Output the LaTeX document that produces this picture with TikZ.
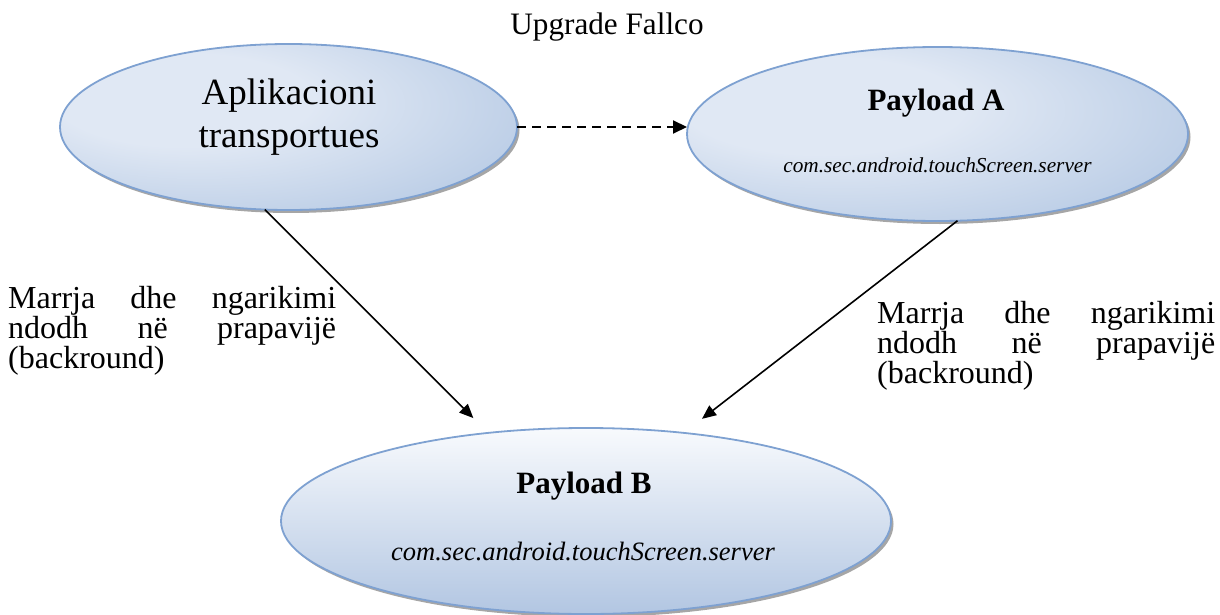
\documentclass[tikz,border=0pt]{standalone}
\usepackage{fontspec}
\setmainfont{Liberation Serif}
\usetikzlibrary{shapes.geometric,shadows,arrows.meta}

\definecolor{ellLight}{RGB}{224,232,244}
\definecolor{ellDark}{RGB}{166,190,222}
\definecolor{ellEdge}{RGB}{126,161,209}
\definecolor{ellTop}{RGB}{248,250,253}
\definecolor{ellBottom}{RGB}{178,198,226}

% soft glow, brightest a little up and to the left of the middle
\pgfdeclareradialshading{ellglow}{\pgfpoint{-14bp}{10bp}}{%
  color(0bp)=(ellLight); color(14bp)=(ellLight);
  color(48bp)=(ellDark); color(75bp)=(ellDark)}

\begin{document}
\setlength{\lineskiplimit}{-30pt}
\begin{tikzpicture}[x=1pt,y=-1pt,
  bubble/.style={ellipse, draw=ellEdge, line width=1.8pt, inner sep=0pt, outer sep=0pt,
    drop shadow={shadow xshift=2.5pt, shadow yshift=-3pt, fill=black, opacity=0.35}},
  glowfill/.style={shading=ellglow},
  fadefill/.style={top color=ellTop, bottom color=ellBottom},
  link/.style={line width=1.6pt, -{Triangle[length=14pt,width=12pt]}},
  dashlink/.style={line width=2pt, dash pattern=on 9pt off 6pt, -{Triangle[length=14pt,width=13pt]}},
  lbl/.style={inner sep=0pt, align=left, font=\fontsize{32}{30}\selectfont},
  heading/.style={inner sep=0pt, font=\fontsize{31.2}{36}\selectfont},
  bigtxt/.style={inner sep=0pt, align=center, font=\fontsize{37}{43}\selectfont},
  boldtxt/.style={inner sep=0pt, font=\bfseries\fontsize{31}{36}\selectfont},
  pkgtxt/.style={inner sep=0pt, font=\itshape\fontsize{21.3}{25}\selectfont},
  pkgbig/.style={inner sep=0pt, font=\itshape\fontsize{26.5}{30}\selectfont}
]
\useasboundingbox (0,0) rectangle (1220,615);

% the three ellipses
\node[bubble, glowfill, minimum width=457pt, minimum height=166pt] (app) at (288.5,127) {};
\node[bubble, glowfill, minimum width=501pt, minimum height=174pt] (pa) at (937.5,134) {};
\node[bubble, fadefill, minimum width=610pt, minimum height=186pt] (pb) at (586,521) {};

% texts (base anchor = baseline of the last line)
\node[heading, anchor=base] (title) at (607,35) {Upgrade Fallco};
\node[bigtxt, anchor=base] (appText) at (289,147) {Aplikacioni\\transportues};
\node[boldtxt, anchor=base] (paName) at (936,111) {Payload A};
\node[pkgtxt, anchor=base] (paPkg) at (937.5,172) {com.sec.android.touchScreen.server};
\node[boldtxt, anchor=base] (pbName) at (584,493) {Payload B};
\node[pkgbig, anchor=base] (pbPkg) at (583,560) {com.sec.android.touchScreen.server};

\node[lbl, anchor=base west] (noteL) at (8,368)
  {\makebox[328pt][l]{Marrja\hfill dhe\hfill ngarikimi}\\
   \makebox[328pt][l]{ndodh\hfill në\hfill prapavijë}\\
   (backround)};
\node[lbl, anchor=base west] (noteR) at (877,383)
  {\makebox[338pt][l]{Marrja\hfill dhe\hfill ngarikimi}\\
   \makebox[338pt][l]{ndodh\hfill në\hfill prapavijë}\\
   (backround)};

% connectors
\draw[dashlink] (app.east) -- (app.east -| pa.west);
\draw[link, shorten >=21pt] (app.254.7) -- (pb.138.1);
\draw[link, shorten >=23pt] (pa.283.4) -- (pb.42.7);
\end{tikzpicture}
\end{document}
